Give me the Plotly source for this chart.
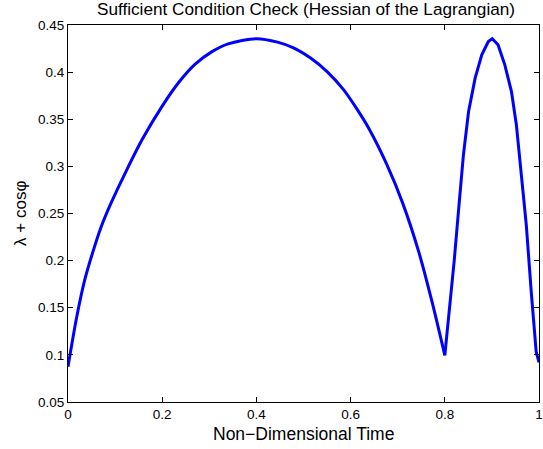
import plotly.graph_objects as go

# Non-dimensional time samples and the Hessian check values
# first arc: t = 0 .. 0.8
arc1_time = [0.0, 0.018, 0.0355, 0.053, 0.0705, 0.088, 0.123, 0.158, 0.2, 0.235, 0.27,
             0.305, 0.34, 0.4, 0.445, 0.48, 0.515, 0.55, 0.585, 0.6126, 0.6405, 0.6756,
             0.7106, 0.7455, 0.7736, 0.8]
arc1_vals = [0.0875, 0.1389, 0.1795, 0.2096, 0.236, 0.2573, 0.2945, 0.329, 0.364, 0.389,
             0.4085, 0.4215, 0.430, 0.4355, 0.4318, 0.4255, 0.4149, 0.4006, 0.3815, 0.3615,
             0.3387, 0.3034, 0.261, 0.2079, 0.1548, 0.0995]
# second arc: t = 0.8 .. 1
arc2_time = [0.8, 0.81, 0.82, 0.83, 0.8395, 0.8504, 0.8644, 0.8785, 0.8924, 0.9007,
             0.913, 0.9274, 0.9415, 0.952, 0.9625, 0.973, 0.9835, 0.994, 1.0]
arc2_vals = [0.0995, 0.148, 0.200, 0.258, 0.312, 0.358, 0.3936, 0.4184, 0.4325, 0.4355,
             0.429, 0.4077, 0.3794, 0.344, 0.291, 0.2379, 0.167, 0.1034, 0.092]

x_ticks = [0, 0.2, 0.4, 0.6, 0.8, 1]
x_tick_labels = ["0", "0.2", "0.4", "0.6", "0.8", "1"]
y_ticks = [0.05, 0.1, 0.15, 0.2, 0.25, 0.3, 0.35, 0.4, 0.45]
y_tick_labels = ["0.05", "0.1", "0.15", "0.2", "0.25", "0.3", "0.35", "0.4", "0.45"]

title_text = "Sufficient Condition Check (Hessian of the Lagrangian)"
x_title = "Non\u2212Dimensional Time"
y_title = "\u03bb + cos\u03c6"

FONT = "Liberation Sans, Arial, Helvetica, sans-serif"
W, H = 543, 449
L, R, T, B = 68, 0, 25, 47
PW, PH = W - L - R, H - T - B

fig = go.Figure()
fig.add_trace(go.Scatter(x=arc1_time, y=arc1_vals, mode="lines",
                         line=dict(color="#0000ff", width=3, shape="spline", smoothing=0.8),
                         showlegend=False))
fig.add_trace(go.Scatter(x=arc2_time, y=arc2_vals, mode="lines",
                         line=dict(color="#0000ff", width=3), showlegend=False))

axis_common = dict(showgrid=False, zeroline=False, showline=True, linecolor="black",
                   linewidth=1, mirror="ticks", ticks="inside", ticklen=5,
                   tickcolor="black", tickwidth=1, ticklabeloverflow="allow",
                   tickfont=dict(family=FONT, size=13.5, color="black"))

fig.update_xaxes(range=[0, 1], tickvals=x_ticks, ticktext=x_tick_labels, **axis_common)
fig.update_yaxes(range=[0.05, 0.45], tickvals=y_ticks, ticktext=y_tick_labels, **axis_common)

fig.update_layout(
    autosize=False, width=W, height=H,
    margin=dict(l=L, r=R, t=T, b=B, pad=0),
    plot_bgcolor="white", paper_bgcolor="white",
    title=dict(text=title_text, x=306 / W, xanchor="center", y=1 - 8.5 / H,
               yanchor="middle", font=dict(family=FONT, size=17.2, color="black")),
    annotations=[
        dict(text=x_title, xref="paper", yref="paper", x=(306 - L) / PW,
             y=-(434 - (T + PH)) / PH,
             xanchor="center", yanchor="middle", showarrow=False,
             font=dict(family=FONT, size=17.5, color="black")),
        dict(text=y_title, xref="paper", yref="paper", x=(20 - L) / PW, y=0.5,
             xanchor="center", yanchor="middle", textangle=-90, showarrow=False,
             font=dict(family=FONT, size=17, color="black")),
    ],
)

fig.write_html("out.html", config={"responsive": False},
               post_script="document.body.style.margin='0';document.body.style.overflow='hidden';document.documentElement.style.overflow='hidden';")
